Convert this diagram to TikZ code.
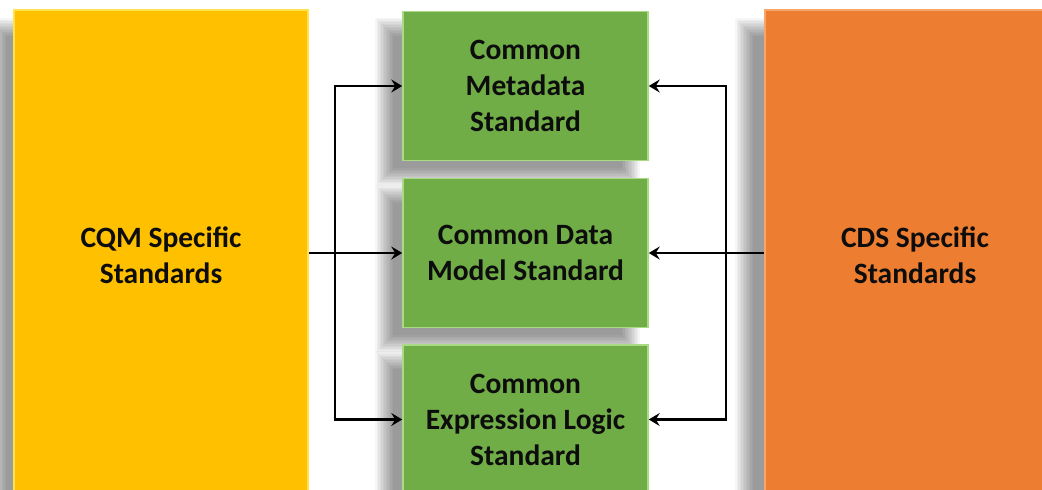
\documentclass[tikz,border=0pt]{standalone}
\usepackage{fontspec}
\setmainfont{Carlito}
\usetikzlibrary{arrows.meta,calc}
\pgfdeclarelayer{bg}
\pgfsetlayers{bg,main}
\definecolor{cqm}{HTML}{FFC000}
\definecolor{cqmedge}{HTML}{FFE34D}
\definecolor{grn}{HTML}{70AD47}
\definecolor{grnedge}{HTML}{A9DB84}
\definecolor{org}{HTML}{ED7D31}
\definecolor{orgedge}{HTML}{F6A66B}
\definecolor{txt}{HTML}{0D0D0D}
\tikzset{
  basebox/.style={rectangle, inner sep=0pt, align=center, text=txt,
    font=\bfseries\fontsize{29.5}{36}\selectfont},
  sidebox/.style={basebox, minimum width=294pt, minimum height=490pt},
  stdbox/.style={basebox, fill=grn, draw=grnedge, line width=1.5pt, minimum width=245pt, minimum height=149pt},
  arr/.style={line width=2.4pt, -{Stealth[length=11pt,width=13pt,inset=4pt]}},
  shadowlayer/.style={fill=black, opacity=0.035}
}
\newcommand{\softshadow}[3]{%
  \begin{pgfonlayer}{bg}
  \foreach \r in {-9,-7.5,...,9.1}{
    \fill[shadowlayer] ($(#1.north west)+(#2-\r,#3-\r)$) rectangle ($(#1.south east)+(#2+\r,#3+\r)$);
  }
  \end{pgfonlayer}}
\begin{document}
\begin{tikzpicture}[x=1pt,y=-1pt]
\clip (0,0) rectangle (1042,490);
\begin{pgfonlayer}{bg}
\fill[white] (0,0) rectangle (1042,490);
\end{pgfonlayer}
\node[sidebox, fill=cqm, draw=cqmedge, line width=1.5pt] (Y) at (161,255) {CQM Specific\\Standards};
\node[sidebox, fill=org, draw=orgedge, line width=1.5pt, minimum width=300pt] (O) at (915,255) {CDS Specific\\Standards};
\node[stdbox] (T) at (525.5,86) {Common\\Metadata\\Standard};
\node[stdbox] (M) at (525.5,253) {Common Data\\Model Standard};
\node[stdbox] (B) at (525.5,419.5) {Common\\Expression Logic\\Standard};
\softshadow{Y}{-16}{18}
\softshadow{O}{-20}{18}
\softshadow{T}{-18}{16}
\softshadow{M}{-18}{16}
\softshadow{B}{-18}{16}
\coordinate (lj) at (335,253);
\coordinate (rj) at (726,253);
\draw[arr] (Y.east |- M.west) -- (M.west);
\draw[arr] (lj) |- (T.west);
\draw[arr] (lj) |- (B.west);
\draw[arr] (O.west |- M.east) -- (M.east);
\draw[arr] (rj) |- (T.east);
\draw[arr] (rj) |- (B.east);
\end{tikzpicture}
\end{document}
